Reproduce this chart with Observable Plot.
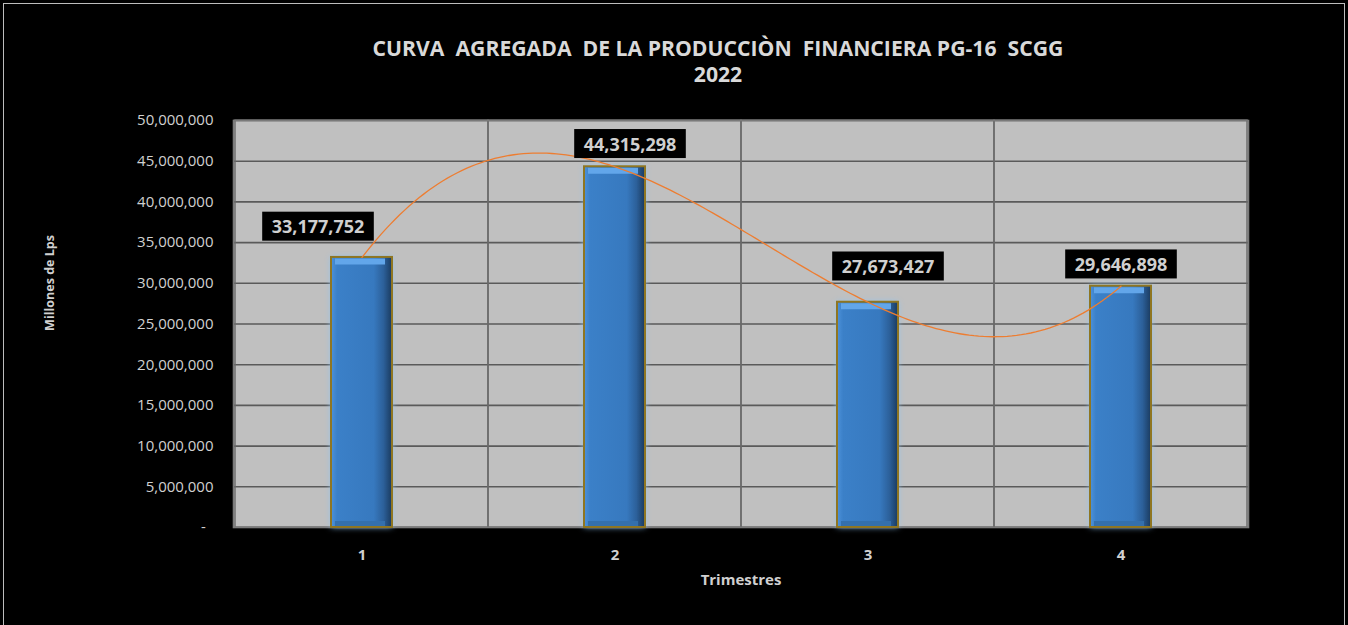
<!DOCTYPE html>
<html>
<head>
<meta charset="utf-8">
<script src="https://cdn.jsdelivr.net/npm/d3@7"></script>
<script src="https://cdn.jsdelivr.net/npm/@observablehq/plot@0.6"></script>
<style>
  body { margin: 0; background: #000; }
  #wrap { position: relative; width: 1348px; height: 625px; background: #000; overflow: hidden; }
  #border { position: absolute; left: 3px; top: 3px; width: 1342px; height: 660px; border: 1px solid #bdbdbd; box-sizing: border-box; }
  #title { position: absolute; left: 218px; width: 1000px; top: 35px; text-align: center; color: #d9d9d9;
           font-family: "Open Sans", sans-serif; font-weight: bold; font-size: 21.2px; line-height: 26px; white-space: pre; }
  #chart { position: absolute; left: 0; top: 0; }
</style>
</head>
<body>
<div id="wrap">
  <div id="border"></div>
  <div id="title"></div>
  <div id="chart"></div>
</div>
<script>
// ---- data ----
const quarters = ["1", "2", "3", "4"];
const production = [33177752, 44315298, 27673427, 29646898];
const yTicks = [0, 5000000, 10000000, 15000000, 20000000, 25000000, 30000000, 35000000, 40000000, 45000000, 50000000];
const titleLines = ["CURVA  AGREGADA  DE LA PRODUCCIÒN  FINANCIERA PG-16  SCGG", "2022"];
const xTitle = "Trimestres";
const yTitle = "Millones de Lps";

// ---- table built from the arrays ----
const rows = quarters.map((q, i) => ({q, v: production[i]}));

// label nudges (placement only, not data)
const labelDx = [-44, 15, 20, 0];
const labelDy = [-30, -22, -35, -21];

document.getElementById("title").textContent = titleLines.join("\n");

// custom curve: polynomial trendline through the points (Excel-like order-3 trend)
function polyTrend(context) {
  let pts = [];
  return {
    areaStart() {}, areaEnd() {},
    lineStart() { pts = []; },
    point(x, y) { pts.push([+x, +y]); },
    lineEnd() {
      const n = pts.length;
      if (!n) return;
      const x0 = pts[0][0], x1 = pts[n - 1][0];
      const steps = 160;
      for (let k = 0; k <= steps; k++) {
        const x = x0 + (x1 - x0) * k / steps;
        let y = 0;
        for (let i = 0; i < n; i++) {
          let L = 1;
          for (let j = 0; j < n; j++) if (j !== i) L *= (x - pts[j][0]) / (pts[i][0] - pts[j][0]);
          y += L * pts[i][1];
        }
        if (k === 0) context.moveTo(x, y); else context.lineTo(x, y);
      }
    }
  };
}

const fmt = d3.format(",");
const barInset = 96;

const plot = Plot.plot({
  width: 1348,
  height: 625,
  marginTop: 120,
  marginBottom: 98,
  marginLeft: 233,
  marginRight: 100,
  style: {background: "transparent", color: "#d0d0d0", fontFamily: "Open Sans, sans-serif", overflow: "visible"},
  x: {type: "band", domain: quarters, padding: 0, label: null},
  y: {domain: [0, 50000000], label: null},
  marks: [
    Plot.frame({fill: "#c0c0c0", stroke: "none"}),
    Plot.gridY(yTicks.filter(d => d > 0), {stroke: "#5a5a5a", strokeOpacity: 1, strokeWidth: 1.6}),
    Plot.barY(quarters, {x: d => d, y1: 0, y2: 50000000, fill: "none", stroke: "#6a6a6a", strokeWidth: 1.4}),
    Plot.frame({stroke: "#7a7a7a", strokeWidth: 1.6}),
    Plot.barY(rows, {x: "q", y: "v", fill: "url(#barGrad)", insetLeft: barInset, insetRight: barInset, ariaDescription: "bars"}),
    Plot.tickY(rows, {x: "q", y: "v", stroke: "#62a6ea", strokeWidth: 6, dy: 4, insetLeft: barInset + 4, insetRight: barInset + 7}),
    Plot.tickY(rows, {x: "q", y: 0, stroke: "#3470ad", strokeWidth: 5, dy: -4, insetLeft: barInset + 4, insetRight: barInset + 7}),
    Plot.barY(rows, {x: "q", y: "v", fill: "none", stroke: "#8f7622", strokeWidth: 2, insetLeft: barInset, insetRight: barInset}),
    Plot.line(rows, {x: "q", y: "v", stroke: "#ed7d31", strokeWidth: 1.3, curve: polyTrend}),
    ...rows.map((r, i) => Plot.text([r], {
      x: "q", y: "v", text: d => fmt(d.v), dx: labelDx[i], dy: labelDy[i],
      fill: "#d0d0d0", fontSize: 18, fontWeight: "bold", lineAnchor: "middle", ariaDescription: "value-label"
    })),
    Plot.axisY({ticks: yTicks, tickSize: 0, tickPadding: 20, fontSize: 15, fill: "#d0d0d0",
      tickFormat: d => d === 0 ? "-\u00a0\u00a0" : fmt(d), label: null}),
    Plot.axisX({tickSize: 0, tickPadding: 22, fontSize: 15, fontWeight: "bold", fill: "#d0d0d0", label: null}),
    Plot.text([xTitle], {text: d => d, frameAnchor: "bottom", dy: 53, fontSize: 15, fontWeight: "bold", fill: "#d0d0d0", lineAnchor: "middle"}),
    Plot.text([yTitle], {text: d => d, frameAnchor: "left", textAnchor: "middle", dx: -184, dy: -41, rotate: -90, fontSize: 12.5, fontWeight: "bold", fill: "#d0d0d0", lineAnchor: "middle"})
  ]
});

document.getElementById("chart").appendChild(plot);

const svgNode = plot.tagName.toLowerCase() === "svg" ? plot : plot.querySelector("svg");
const svg = d3.select(svgNode);

// gradient defs for the bevelled bars
const defs = svg.insert("defs", ":first-child");
const g = defs.append("linearGradient").attr("id", "barGrad").attr("x1", 0).attr("x2", 1).attr("y1", 0).attr("y2", 0);
[[0, "#4d92da"], [0.1, "#3b80c8"], [0.7, "#3779bf"], [0.86, "#2c609a"], [1, "#1a3a5e"]]
  .forEach(([o, c]) => g.append("stop").attr("offset", o).attr("stop-color", c));

svgNode.querySelectorAll('[aria-description="bars"]').forEach(el => {
  el.style.filter = "drop-shadow(0 0 3px #8fc3f0)";
});

// black boxes behind the value labels
svgNode.querySelectorAll('[aria-description="value-label"]').forEach(grp => {
  grp.querySelectorAll("text").forEach(t => {
    const b = t.getBBox();
    const padX = 9.5, padY = 2.5;
    const r = document.createElementNS("http://www.w3.org/2000/svg", "rect");
    if (t.getAttribute("transform")) r.setAttribute("transform", t.getAttribute("transform"));
    r.setAttribute("x", b.x - padX);
    r.setAttribute("y", b.y - padY);
    r.setAttribute("width", b.width + 2 * padX);
    r.setAttribute("height", b.height + 2 * padY);
    r.setAttribute("fill", "#000");
    t.parentNode.insertBefore(r, t);
  });
});
</script>
</body>
</html>
